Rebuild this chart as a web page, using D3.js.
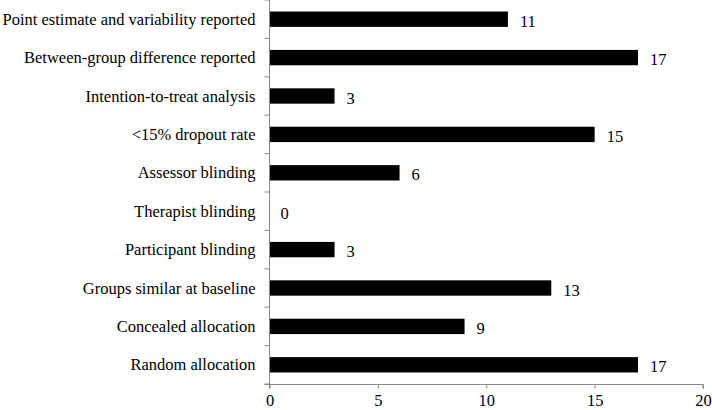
<!DOCTYPE html>
<html><head><meta charset="utf-8">
<script src="https://cdn.jsdelivr.net/npm/d3@7"></script>
<style>body{margin:0;background:#fff}svg{display:block}</style>
</head><body>
<svg id="c" width="712" height="410"></svg>
<script>
const categories = ["Point estimate and variability reported","Between-group difference reported","Intention-to-treat analysis","<15% dropout rate","Assessor blinding","Therapist blinding","Participant blinding","Groups similar at baseline","Concealed allocation","Random allocation"];
const values = [11,17,3,15,6,0,3,13,9,17];
const xTicks = [0,5,10,15,20];

const FONT = "Liberation Serif";
const FS = 16.5;
const svg = d3.select("#c");
const m = {left:269.5, right:703, top:0, bottom:384};
const x = d3.scaleLinear().domain([0,20]).range([m.left, m.right]);
const y = d3.scaleBand().domain(categories).range([m.top, m.bottom]).paddingInner(0.6).paddingOuter(0.3);
const band = d3.scaleBand().domain(categories).range([m.top, m.bottom]);

svg.selectAll("rect.bar").data(categories).join("rect")
  .attr("x", x(0)).attr("y", d=>y(d))
  .attr("width", (d,i)=>x(values[i])-x(0)).attr("height", y.bandwidth())
  .attr("fill","#000");

svg.selectAll("text.val").data(categories).join("text")
  .attr("font-family",FONT)
  .attr("x",(d,i)=>x(values[i])+ (values[i]===0?11:12)).attr("y", d=>band(d)+band.bandwidth()/2+7.5)
  .attr("font-size",FS).text((d,i)=>values[i]);

// y axis
const yAxis = svg.append("g").attr("transform",`translate(${m.left},0)`);
yAxis.append("line").attr("y1",m.top).attr("y2",m.bottom).attr("stroke","#888").attr("stroke-width",1);
yAxis.selectAll("line.t").data(d3.range(0,11)).join("line")
  .attr("x1",-5).attr("x2",0).attr("y1",i=>m.top+i*band.step()).attr("y2",i=>m.top+i*band.step())
  .attr("stroke","#888");
svg.selectAll("text.cat").data(categories).join("text")
  .attr("font-family",FONT)
  .attr("x", m.left-14).attr("y", d=>band(d)+band.bandwidth()/2+5.5)
  .attr("text-anchor","end").attr("font-size",FS).text(d=>d);

// x axis
const xa = svg.append("g").attr("transform",`translate(0,${m.bottom+0.5})`)
  .call(d3.axisBottom(x).tickValues(xTicks).tickSize(4).tickPadding(6));
xa.select(".domain").attr("stroke","#888").attr("d",`M${m.left-5},0H${m.right}M${m.left},0V4M${m.right},0V4`);
xa.selectAll(".tick line").attr("stroke","#888");
xa.selectAll(".tick text").attr("font-size",FS).attr("font-family",FONT).attr("fill","#000");
</script>
</body></html>
